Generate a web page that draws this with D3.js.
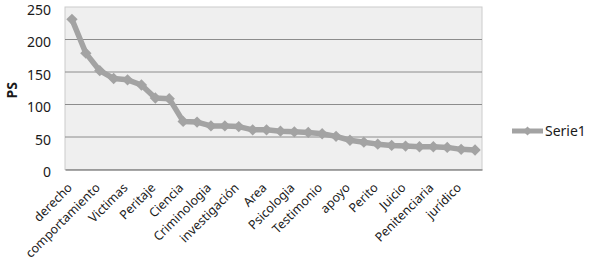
<!DOCTYPE html>
<html>
<head>
<meta charset="utf-8">
<script src="https://cdn.jsdelivr.net/npm/d3@7"></script>
<style>
  body { margin: 0; background: #fff; }
  svg text { font-family: "Noto Sans", "Open Sans", sans-serif; fill: #1a1a1a; }
</style>
</head>
<body>
<svg id="chart" width="590" height="263"></svg>
<script>
// values, one per category (30 categories)
const values = [231, 179, 152, 140, 138, 130, 110, 109, 74, 73,
                67, 67, 66, 61, 61, 59, 58, 57, 55, 51,
                45, 42, 39, 37, 36, 35, 35, 34, 31, 30];
// only every other category is labelled in the chart
const tickLabels = ['derecho', 'comportamiento', 'Victimas', 'Peritaje', 'Ciencia',
                    'Criminologia', 'investigación', 'Area', 'Psicologia', 'Testimonio',
                    'apoyo', 'Perito', 'Juicio', 'Penitenciaria', 'jurídico'];
const yTicks = [0, 50, 100, 150, 200, 250];
const seriesName = 'Serie1';

const svg = d3.select('#chart');
const plot = { left: 65, right: 482, top: 7, bottom: 169.5 };

const x = d3.scaleBand()
    .domain(d3.range(values.length))
    .range([plot.left, plot.right]);
const y = d3.scaleLinear()
    .domain([0, 250])
    .range([plot.bottom, plot.top]);

// plot background
svg.append('rect')
    .attr('x', plot.left).attr('y', plot.top)
    .attr('width', plot.right - plot.left).attr('height', plot.bottom - plot.top)
    .attr('fill', '#efefef')
    .attr('stroke', '#cccccc');

// gridlines
svg.append('g')
    .selectAll('line')
    .data(yTicks.filter(d => d > 0 && d < 250))
    .join('line')
    .attr('x1', plot.left).attr('x2', plot.right)
    .attr('y1', d => y(d)).attr('y2', d => y(d))
    .attr('stroke', '#8c8c8c')
    .attr('stroke-width', 1);

// y axis
const yAxis = d3.axisLeft(y).tickValues(yTicks).tickSize(0).tickPadding(14);
svg.append('g')
    .attr('transform', `translate(${plot.left},0)`)
    .call(yAxis)
    .call(g => g.select('.domain').remove())
    .selectAll('text')
    .attr('dy', '0.5em')
    .style('font-size', '14px');

// x axis
const xAxis = d3.axisBottom(x)
    .tickValues(d3.range(0, values.length, 2))
    .tickFormat(i => tickLabels[i / 2])
    .tickSize(0);
svg.append('g')
    .attr('transform', `translate(0,${plot.bottom})`)
    .call(xAxis)
    .call(g => g.select('.domain').attr('stroke', '#8a8a8a').attr('stroke-width', 1.5))
    .selectAll('text')
    .style('font-size', '12.5px')
    .attr('text-anchor', 'end')
    .attr('dy', null).attr('y', null)
    .attr('transform', 'translate(1,19) rotate(-45)');

// axis title
svg.append('text')
    .attr('transform', `translate(17,${(plot.top + plot.bottom) / 2 + 2}) rotate(-90)`)
    .attr('text-anchor', 'middle')
    .style('font-size', '14px')
    .style('font-weight', 'bold')
    .text('PS');

const lineColor = '#a3a3a3';
const line = d3.line()
    .x((d, i) => x(i) + x.bandwidth() / 2)
    .y(d => y(d));

svg.append('path')
    .datum(values)
    .attr('d', line)
    .attr('fill', 'none')
    .attr('stroke', lineColor)
    .attr('stroke-width', 5.5)
    .attr('stroke-linejoin', 'round');

// diamond markers: squares turned 45 degrees
const marker = d3.symbol().type(d3.symbolSquare).size(64);
svg.append('g')
    .selectAll('path')
    .data(values)
    .join('path')
    .attr('transform', (d, i) => `translate(${x(i) + x.bandwidth() / 2},${y(d)}) rotate(45)`)
    .attr('d', marker)
    .attr('fill', lineColor);

// legend
const lg = svg.append('g').attr('transform', 'translate(512,131)');
lg.append('line')
    .attr('x1', 0).attr('x2', 31)
    .attr('stroke', lineColor).attr('stroke-width', 5);
lg.append('path')
    .attr('transform', 'translate(15.5,0) rotate(45)')
    .attr('d', d3.symbol().type(d3.symbolSquare).size(40))
    .attr('fill', lineColor);
lg.append('text')
    .attr('x', 33).attr('y', 5)
    .style('font-size', '14px')
    .text(seriesName);
</script>
</body>
</html>
